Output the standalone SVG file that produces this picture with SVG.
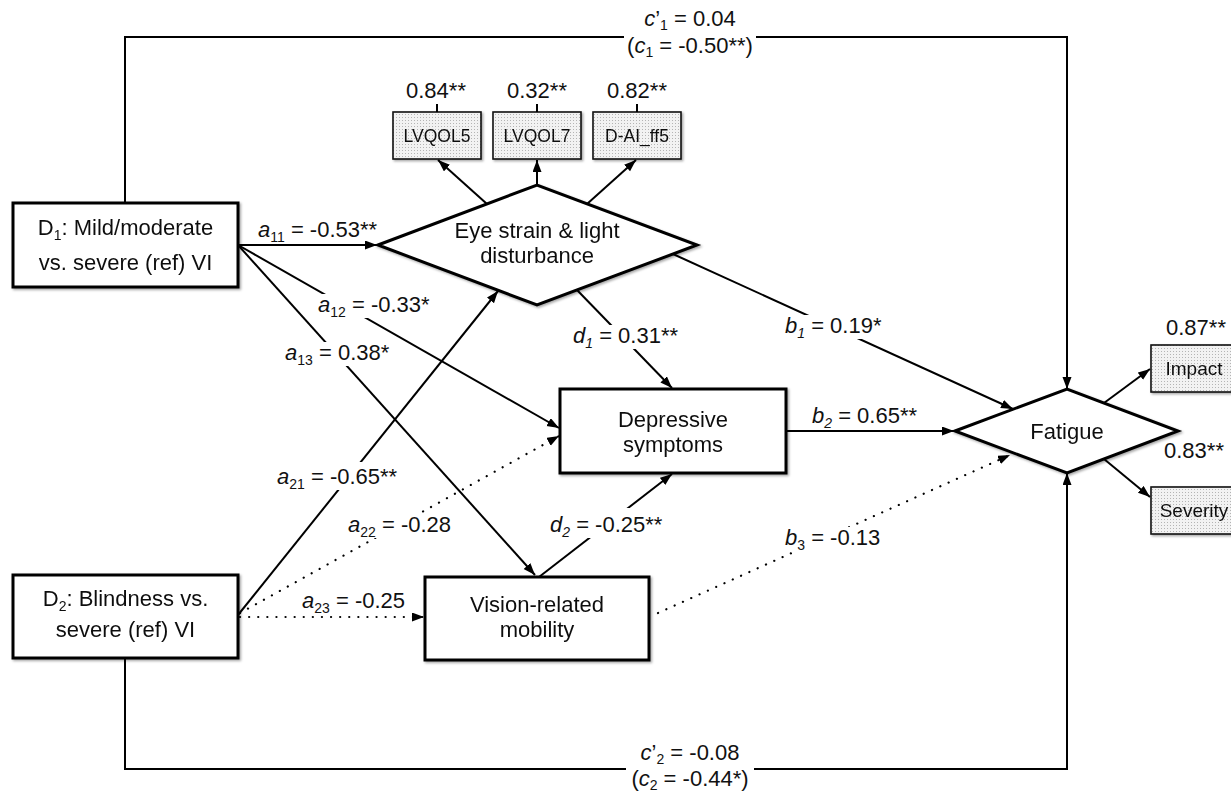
<svg xmlns="http://www.w3.org/2000/svg" width="1231" height="794" viewBox="0 0 1231 794">
<style>
text{font-family:"Liberation Sans",Arial,Helvetica,sans-serif;fill:#111}
.t{font-size:22px}
.s{font-size:17.5px}
.r{font-size:19px}
.mid{text-anchor:middle}
.it{font-style:italic}
.sub{font-size:14px}
.box{fill:#fff;stroke:#000;stroke-width:3}
.ind{fill:url(#dots);stroke:#111;stroke-width:1.6}
.ln{fill:none;stroke:#000;stroke-width:2}
.dot{fill:none;stroke:#000;stroke-width:2.2;stroke-dasharray:0.1 9;stroke-linecap:round}
.bg{fill:#fff}
</style>
<defs>
<pattern id="dots" width="3" height="3" patternUnits="userSpaceOnUse">
<rect width="3" height="3" fill="#f2f2f2"/>
<rect width="1" height="1" fill="#b4b4b4"/>
</pattern>
<filter id="sh" x="-5%" y="-5%" width="115%" height="120%">
<feDropShadow dx="1.5" dy="1.5" stdDeviation="1" flood-color="#000" flood-opacity="0.35"/>
</filter>
<marker id="ar" markerUnits="userSpaceOnUse" markerWidth="13" markerHeight="10" refX="12" refY="4.5" orient="auto">
<path d="M0,0 L12,4.5 L0,9 z" fill="#000"/>
</marker>
</defs>
<rect width="1231" height="794" fill="#fff"/>

<g id="D1" filter="url(#sh)">
<rect class="box" x="13" y="203" width="225" height="84"/>
<text class="t mid" x="125.5" y="235">D<tspan class="sub" dy="5">1</tspan><tspan dy="-5">: Mild/moderate</tspan></text>
<text class="t mid" x="125.5" y="270">vs. severe (ref) VI</text>
</g>

<g id="D2" filter="url(#sh)">
<rect class="box" x="13" y="575" width="225" height="83"/>
<text class="t mid" x="125.5" y="606">D<tspan class="sub" dy="5">2</tspan><tspan dy="-5">: Blindness vs.</tspan></text>
<text class="t mid" x="125.5" y="637">severe (ref) VI</text>
</g>

<g id="EyeStrain" filter="url(#sh)">
<polygon class="box" stroke-width="3.5" points="378,245 537,185 697,245 537,305"/>
<text class="t mid" x="537" y="238">Eye strain &amp; light</text>
<text class="t mid" x="537" y="263">disturbance</text>
</g>

<g id="LVQOL5" filter="url(#sh)">
<rect class="ind" x="393" y="112" width="88" height="47"/>
<text class="s mid" x="437" y="142">LVQOL5</text>
</g>
<g id="LVQOL7" filter="url(#sh)">
<rect class="ind" x="493" y="112" width="88" height="47"/>
<text class="s mid" x="537" y="142">LVQOL7</text>
</g>
<g id="DAIff5" filter="url(#sh)">
<rect class="ind" x="593" y="112" width="88" height="47"/>
<text class="s mid" x="637" y="142">D-AI_ff5</text>
</g>

<g id="Depressive" filter="url(#sh)">
<rect class="box" x="560" y="389" width="226" height="84"/>
<text class="t mid" x="673" y="427">Depressive</text>
<text class="t mid" x="673" y="452">symptoms</text>
</g>

<g id="Mobility" filter="url(#sh)">
<rect class="box" x="425" y="577" width="224" height="83"/>
<text class="t mid" x="537" y="612">Vision-related</text>
<text class="t mid" x="537" y="637">mobility</text>
</g>

<g id="Fatigue" filter="url(#sh)">
<polygon class="box" stroke-width="3.5" points="955,431 1067,389 1178,431 1067,473"/>
<text class="t mid" x="1067" y="439">Fatigue</text>
</g>

<g id="Impact" filter="url(#sh)">
<rect class="ind" x="1151" y="345" width="90" height="47"/>
<text class="r mid" x="1194" y="375">Impact</text>
</g>
<g id="Severity" filter="url(#sh)">
<rect class="ind" x="1151" y="487" width="90" height="47"/>
<text class="r mid" x="1194" y="517">Severity</text>
</g>

<g id="connectors">
<path class="ln" stroke-width="2.5" d="M125,203 V37 H1067 V389" marker-end="url(#ar)"/>
<path class="ln" stroke-width="2.5" d="M125,658 V769 H1067 V473" marker-end="url(#ar)"/>
<line class="ln" x1="437" y1="104" x2="437" y2="112"/>
<line class="ln" x1="537" y1="104" x2="537" y2="112"/>
<line class="ln" x1="637" y1="104" x2="637" y2="112"/>
<line class="ln" x1="487" y1="204" x2="438" y2="160" marker-end="url(#ar)"/>
<line class="ln" x1="537" y1="185" x2="537" y2="160" marker-end="url(#ar)"/>
<line class="ln" x1="587" y1="204" x2="636" y2="160" marker-end="url(#ar)"/>
<line class="ln" x1="238" y1="245" x2="377" y2="245" marker-end="url(#ar)"/>
<line class="ln" x1="238" y1="245" x2="559" y2="428" marker-end="url(#ar)"/>
<line class="ln" x1="238" y1="245" x2="535" y2="575" marker-end="url(#ar)"/>
<line class="ln" x1="238" y1="615" x2="498" y2="291" marker-end="url(#ar)"/>
<line class="dot" x1="240" y1="613" x2="559" y2="436" marker-end="url(#ar)"/>
<line class="dot" x1="240" y1="617" x2="424" y2="617" marker-end="url(#ar)"/>
<line class="ln" x1="577" y1="290" x2="672" y2="388" marker-end="url(#ar)"/>
<line class="ln" x1="539" y1="577" x2="672" y2="474" marker-end="url(#ar)"/>
<line class="ln" x1="673" y1="254" x2="1013" y2="409" marker-end="url(#ar)"/>
<line class="ln" x1="786" y1="431" x2="954" y2="431" marker-end="url(#ar)"/>
<line class="dot" x1="658" y1="613" x2="1010" y2="455" marker-end="url(#ar)"/>
<line class="ln" x1="1104" y1="403" x2="1150" y2="369" marker-end="url(#ar)"/>
<line class="ln" x1="1104" y1="459" x2="1150" y2="497" marker-end="url(#ar)"/>
</g>

<g id="labels">
<rect class="bg" x="624" y="8" width="132" height="50"/>
<text class="t mid" x="690" y="26"><tspan class="it">c</tspan>’<tspan class="sub" dy="4">1</tspan><tspan dy="-4"> = 0.04</tspan></text>
<text class="t mid" x="690" y="53">(<tspan class="it">c</tspan><tspan class="sub" dy="4">1</tspan><tspan dy="-4"> = -0.50**)</tspan></text>
<rect class="bg" x="626" y="742" width="128" height="48"/>
<text class="t mid" x="690" y="760"><tspan class="it">c</tspan>’<tspan class="sub" dy="4">2</tspan><tspan dy="-4"> = -0.08</tspan></text>
<text class="t mid" x="690" y="786">(<tspan class="it">c</tspan><tspan class="sub" dy="4">2</tspan><tspan dy="-4"> = -0.44*)</tspan></text>

<text class="t mid" x="436" y="98">0.84**</text>
<text class="t mid" x="537" y="98">0.32**</text>
<text class="t mid" x="637" y="98">0.82**</text>
<text class="t mid" x="1196" y="335">0.87**</text>
<text class="t mid" x="1194" y="458">0.83**</text>

<text class="t" x="258" y="237"><tspan class="it">a</tspan><tspan class="sub" dy="5">11</tspan><tspan dy="-5"> = -0.53**</tspan></text>
<rect class="bg" x="316" y="294" width="114" height="24"/>
<text class="t" x="318" y="312"><tspan class="it">a</tspan><tspan class="sub" dy="5">12</tspan><tspan dy="-5"> = -0.33*</tspan></text>
<rect class="bg" x="283" y="342" width="106" height="24"/>
<text class="t" x="285" y="360"><tspan class="it">a</tspan><tspan class="sub" dy="5">13</tspan><tspan dy="-5"> = 0.38*</tspan></text>
<rect class="bg" x="275" y="462" width="122" height="28"/>
<text class="t" x="277" y="484"><tspan class="it">a</tspan><tspan class="sub" dy="5">21</tspan><tspan dy="-5"> = -0.65**</tspan></text>
<rect class="bg" x="346" y="514" width="106" height="24"/>
<text class="t" x="348" y="532"><tspan class="it">a</tspan><tspan class="sub" dy="5">22</tspan><tspan dy="-5"> = -0.28</tspan></text>
<text class="t" x="302" y="608"><tspan class="it">a</tspan><tspan class="sub" dy="5">23</tspan><tspan dy="-5"> = -0.25</tspan></text>
<rect class="bg" x="571" y="325" width="109" height="24"/>
<text class="t" x="573" y="343"><tspan class="it">d</tspan><tspan class="sub it" dy="5">1</tspan><tspan dy="-5"> = 0.31**</tspan></text>
<rect class="bg" x="548" y="508" width="116" height="30"/>
<text class="t" x="550" y="532"><tspan class="it">d</tspan><tspan class="sub it" dy="5">2</tspan><tspan dy="-5"> = -0.25**</tspan></text>
<rect class="bg" x="783" y="315" width="100" height="24"/>
<text class="t" x="785" y="333"><tspan class="it">b</tspan><tspan class="sub it" dy="5">1</tspan><tspan dy="-5"> = 0.19*</tspan></text>
<text class="t" x="812" y="423"><tspan class="it">b</tspan><tspan class="sub it" dy="5">2</tspan><tspan dy="-5"> = 0.65**</tspan></text>
<rect class="bg" x="783" y="527" width="99" height="24"/>
<text class="t" x="785" y="545"><tspan class="it">b</tspan><tspan class="sub" dy="5">3</tspan><tspan dy="-5"> = -0.13</tspan></text>
</g>
</svg>
